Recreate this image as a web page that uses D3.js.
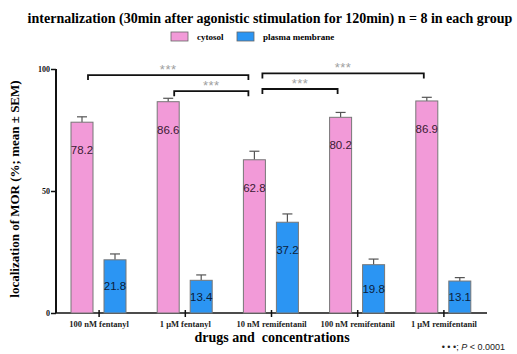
<!DOCTYPE html>
<html>
<head>
<meta charset="utf-8">
<script src="https://cdn.jsdelivr.net/npm/d3@7"></script>
<style>
  body { margin: 0; background: #fff; }
  .serif { font-family: "Liberation Serif", "DejaVu Serif", serif; font-weight: bold; }
  .sans { font-family: "Liberation Sans", Arial, sans-serif; }
</style>
</head>
<body>
<svg id="chart"></svg>
<script>
// data
const groups = ['100 nM fentanyl', '1 \u03bcM fentanyl', '10 nM remifentanil', '100 nM remifentanil', '1 \u03bcM remifentanil'];
const series = ['cytosol', 'plasma membrane'];
const cytosol = [78.2, 86.6, 62.8, 80.2, 86.9];
const cytosolSem = [2.2, 1.4, 3.5, 2.0, 1.5];
const membrane = [21.8, 13.4, 37.2, 19.8, 13.1];
const membraneSem = [2.4, 2.2, 3.4, 2.3, 1.4];
const yTicks = [0, 50, 100];
// significance brackets: [from group, to group, level in %]
const brackets = [[0, 2, 97.5], [1, 2, 90.9], [2, 4, 98.2], [2, 3, 91.8]];

class GroupedBarChart {
  constructor(_config) {
    this.config = {
      parentElement: _config.parentElement,
      containerWidth: 517,
      containerHeight: 354,
      margin: { top: 69, right: 30, bottom: 41, left: 56 },
      colors: ['#f29ad8', '#2b95f3']
    };
    this.initVis();
  }

  initVis() {
    let vis = this;
    vis.width = vis.config.containerWidth - vis.config.margin.left - vis.config.margin.right;
    vis.height = vis.config.containerHeight - vis.config.margin.top - vis.config.margin.bottom;

    vis.xScale = d3.scaleBand().domain(groups).range([0, vis.width]);
    vis.xSub = d3.scaleBand().domain(series).range([15, 70]).paddingInner(1 / 3);
    vis.yScale = d3.scaleLinear().domain([0, 100]).range([vis.height, 0]);
    vis.color = d3.scaleOrdinal().domain(series).range(vis.config.colors);

    vis.svg = d3.select(vis.config.parentElement)
        .attr('width', vis.config.containerWidth)
        .attr('height', vis.config.containerHeight);

    vis.chart = vis.svg.append('g')
        .attr('transform', `translate(${vis.config.margin.left},${vis.config.margin.top})`);

    // title
    vis.svg.append('text')
        .attr('class', 'serif')
        .attr('x', 270).attr('y', 23)
        .attr('text-anchor', 'middle')
        .style('font-size', '14px')
        .text('internalization (30min after agonistic stimulation for 120min) n = 8 in each group');

    // legend
    const legend = vis.svg.append('g').attr('transform', 'translate(171,32)');
    const legendX = [0, 66];
    series.forEach((s, i) => {
      const g = legend.append('g').attr('transform', `translate(${legendX[i]},0)`);
      g.append('rect')
          .attr('width', 17).attr('height', 9)
          .attr('fill', vis.color(s))
          .attr('stroke', '#666').attr('stroke-width', 0.8);
      g.append('text')
          .attr('class', 'serif')
          .attr('x', 26).attr('y', 8)
          .style('font-size', '9px')
          .text(s);
    });

    vis.yAxis = d3.axisLeft(vis.yScale).tickValues(yTicks).tickSize(5).tickPadding(1);
    vis.xAxis = d3.axisBottom(vis.xScale).tickSize(0).tickPadding(8);

    vis.xAxisG = vis.chart.append('g')
        .attr('transform', `translate(0,${vis.height})`);
    vis.yAxisG = vis.chart.append('g');

    // axis titles
    vis.svg.append('text')
        .attr('class', 'serif')
        .attr('transform', 'translate(19,189) rotate(-90)')
        .attr('text-anchor', 'middle')
        .style('font-size', '13px')
        .text('localization of MOR (%; mean \u00b1 SEM)');

    vis.svg.append('text')
        .attr('class', 'serif')
        .attr('x', 272).attr('y', 342)
        .attr('text-anchor', 'middle')
        .style('font-size', '14px')
        .style('white-space', 'pre')
        .text('drugs and  concentrations');

    const note = vis.svg.append('text')
        .attr('class', 'sans')
        .attr('x', 505).attr('y', 350)
        .attr('text-anchor', 'end')
        .style('font-size', '9px')
        .attr('fill', '#222');
    note.append('tspan').text('\u2022 \u2022 \u2022; ');
    note.append('tspan').style('font-style', 'italic').text('P');
    note.append('tspan').text(' < 0.0001');

    vis.updateVis();
  }

  updateVis() {
    let vis = this;
    vis.data = [];
    groups.forEach((g, i) => {
      vis.data.push({ group: g, key: series[0], value: cytosol[i], sem: cytosolSem[i] });
      vis.data.push({ group: g, key: series[1], value: membrane[i], sem: membraneSem[i] });
    });
    vis.renderVis();
  }

  renderVis() {
    let vis = this;
    const xPos = d => vis.xScale(d.group) + vis.xSub(d.key);
    const bw = vis.xSub.bandwidth();

    // error bars (upper only)
    const err = vis.chart.selectAll('.err').data(vis.data).join('g').attr('class', 'err');
    err.append('line')
        .attr('x1', d => xPos(d) + bw / 2).attr('x2', d => xPos(d) + bw / 2)
        .attr('y1', d => vis.yScale(d.value)).attr('y2', d => vis.yScale(d.value + d.sem))
        .attr('stroke', '#555').attr('stroke-width', 1.2);
    err.append('line')
        .attr('x1', d => xPos(d) + bw / 2 - 5).attr('x2', d => xPos(d) + bw / 2 + 5)
        .attr('y1', d => vis.yScale(d.value + d.sem)).attr('y2', d => vis.yScale(d.value + d.sem))
        .attr('stroke', '#555').attr('stroke-width', 1.2);

    vis.chart.selectAll('.bar')
        .data(vis.data)
        .join('rect')
        .attr('class', 'bar')
        .attr('x', d => xPos(d))
        .attr('y', d => vis.yScale(d.value))
        .attr('width', bw)
        .attr('height', d => vis.height - vis.yScale(d.value))
        .attr('fill', d => vis.color(d.key))
        .attr('stroke', '#777')
        .attr('stroke-width', 1);

    // value labels
    vis.chart.selectAll('.val')
        .data(vis.data)
        .join('text')
        .attr('class', 'val sans')
        .attr('x', d => xPos(d) + bw / 2)
        .attr('y', d => {
          const top = vis.yScale(d.value);
          return Math.min((top + vis.height) / 2, top + 28) + 4;
        })
        .attr('text-anchor', 'middle')
        .style('font-size', '11.5px')
        .attr('fill', d => d.key === series[0] ? '#3a1a33' : '#0b1d3a')
        .text(d => d.value.toFixed(1));

    // significance brackets
    const pinkC = i => vis.xScale(groups[i]) + vis.xSub(series[0]) + bw / 2;
    const ends = d => d[0] === 2
        ? [pinkC(d[0]) + 8, pinkC(d[1]) - 3]
        : [pinkC(d[0]) + 6, pinkC(d[1]) - 6];
    const br = vis.chart.selectAll('.bracket').data(brackets).join('g').attr('class', 'bracket');
    br.append('path')
        .attr('d', d => {
          const [x1, x2] = ends(d);
          const y = vis.yScale(d[2]);
          return `M${x1},${y + 5}V${y}H${x2}V${y + 5}`;
        })
        .attr('fill', 'none').attr('stroke', '#111').attr('stroke-width', 1.8);
    br.append('text')
        .attr('class', 'sans')
        .attr('x', d => d3.mean(ends(d)))
        .attr('y', d => vis.yScale(d[2]) - 1)
        .attr('text-anchor', 'middle')
        .style('font-size', '13px')
        .style('letter-spacing', '0.5px')
        .attr('fill', '#a0a0a0')
        .text('***');

    // axes
    vis.yAxisG.call(vis.yAxis)
        .call(g => g.select('.domain').attr('stroke', '#111').attr('stroke-width', 2).attr('d', `M0,${vis.height}V0`))
        .call(g => g.selectAll('.tick line').attr('stroke', '#111').attr('stroke-width', 1.5))
        .call(g => g.selectAll('.tick text')
            .attr('font-family', '"Liberation Serif", serif').attr('font-weight', 'bold')
            .attr('font-size', '8px').attr('fill', '#111'));

    vis.xAxisG.call(vis.xAxis)
        .call(g => g.select('.domain').attr('stroke', '#111').attr('stroke-width', 1.5).attr('d', `M0,0H${vis.width}`))
        .call(g => g.selectAll('.tick text')
            .attr('font-family', '"Liberation Serif", serif').attr('font-weight', 'bold')
            .attr('font-size', '8.5px').attr('fill', '#222'));

    // short tick marks crossing the x axis between the bars of each group
    vis.xAxisG.selectAll('.tick').append('line')
        .attr('y1', -3).attr('y2', 4)
        .attr('stroke', '#111').attr('stroke-width', 1.5);
  }
}

new GroupedBarChart({ parentElement: '#chart' });
</script>
</body>
</html>
